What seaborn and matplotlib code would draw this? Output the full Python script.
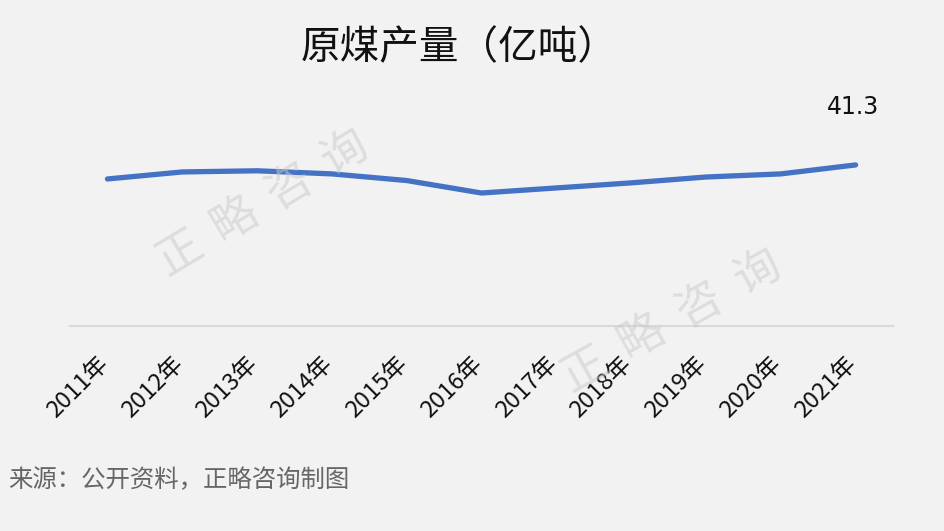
import numpy as np
import pandas as pd
import matplotlib
matplotlib.use('Agg')
import matplotlib.pyplot as plt
import matplotlib.transforms as mtransforms
import seaborn as sns

years = ['2011年', '2012年', '2013年', '2014年', '2015年', '2016年',
         '2017年', '2018年', '2019年', '2020年', '2021年']
output = [37.7, 39.5, 39.8, 39.0, 37.3, 34.1, 35.4, 36.7, 38.2, 39.0, 41.3]

title = '原煤产量（亿吨）'
source = '来源：公开资料，正略咨询制图'
watermark = '正略咨询'

BG = '#f2f2f2'
BLUE = '#4472c4'

sns.set_theme(style='white')
plt.rcParams['font.family'] = ['Noto Sans CJK SC', 'DejaVu Sans']


def draw_watermark(fig, cx, cy, angle, step, size):
    # one glyph at a time so the letter spacing matches
    a = np.deg2rad(angle)
    n = len(watermark)
    for i, ch in enumerate(watermark):
        off = (i - (n - 1) / 2) * step
        x = (cx + off * np.cos(a)) / 944
        y = 1 - (cy - off * np.sin(a)) / 531
        fig.text(x, y, ch, fontsize=size, color='#c8c8c8', alpha=0.5,
                 rotation=angle, ha='center', va='center', zorder=10)


def main():
    df = pd.DataFrame({'year': years, 'output': output})

    fig = plt.figure(figsize=(9.44, 5.31), dpi=100, facecolor=BG)
    ax = fig.add_axes([70 / 944, 205 / 531, 823 / 944, 195 / 531])
    ax.set_facecolor(BG)

    sns.lineplot(data=df, x='year', y='output', ax=ax, sort=False,
                 color=BLUE, linewidth=3.8, solid_capstyle='round')

    ax.set_xlim(-0.5, len(years) - 0.5)
    ax.set_ylim(0, 50)
    ax.set_xlabel('')
    ax.set_ylabel('')
    ax.set_yticks([])
    for s in ['top', 'left', 'right']:
        ax.spines[s].set_visible(False)
    ax.spines['bottom'].set_color('#d9d9d9')
    ax.spines['bottom'].set_linewidth(1.5)

    ax.tick_params(axis='x', length=0, pad=25)
    ax.set_xticks(range(len(years)))
    ax.set_xticklabels(years, rotation=45, ha='right', va='center',
                       rotation_mode='anchor', fontsize=17, color='#111111')
    shift = mtransforms.ScaledTranslation(-3 / 100, 0, fig.dpi_scale_trans)
    for lab in ax.get_xticklabels():
        lab.set_transform(lab.get_transform() + shift)

    ax.annotate(f'{output[-1]}', (len(years) - 1, output[-1]),
                xytext=(-2, 33), textcoords='offset points', ha='center',
                va='bottom', fontsize=17, color='#111111',
                family=['DejaVu Sans'])

    fig.text(459 / 944, 1 - 48 / 531, title, fontsize=28.5, color='#111111',
             ha='center', va='center')
    fig.text(8 / 944, 1 - 480 / 531, source, fontsize=17.6, color='#666666',
             ha='left', va='center')

    draw_watermark(fig, 262, 203, 31, 64, 33)
    draw_watermark(fig, 671, 321, 29, 66, 33)

    fig.savefig('out.png', dpi=100, facecolor=BG)


if __name__ == '__main__':
    main()
